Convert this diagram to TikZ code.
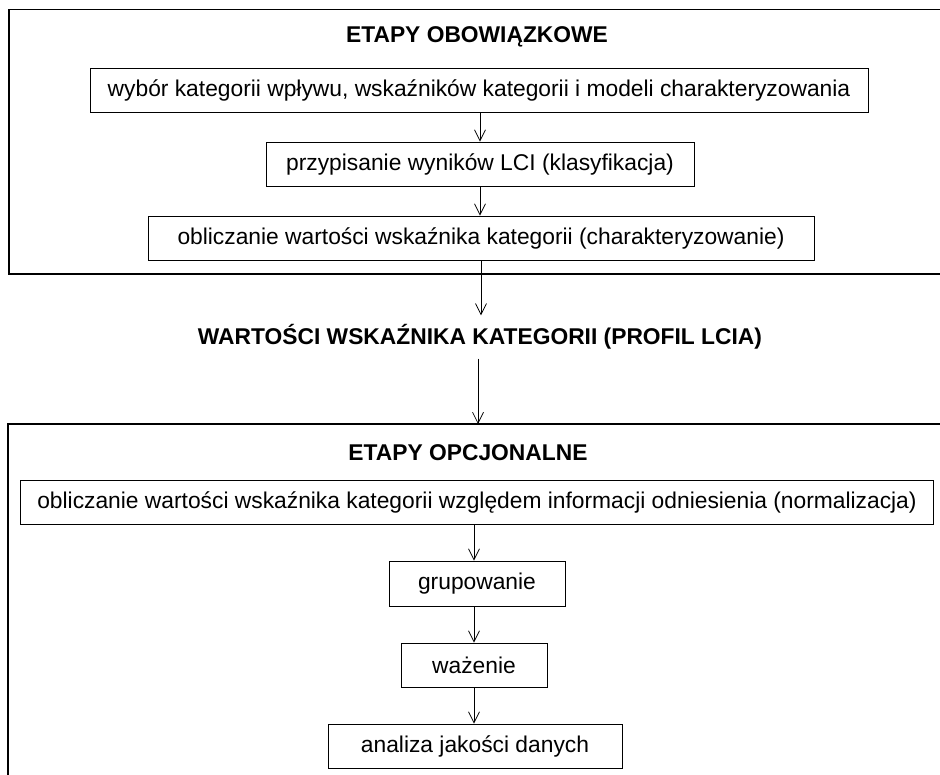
\documentclass[tikz,border=0pt]{standalone}
\usepackage{fontspec}
\setmainfont{Liberation Sans}
\usetikzlibrary{arrows.meta}
\begin{document}
\begin{tikzpicture}[x=1pt,y=-1pt,
		st/.style={draw,line width=0.9pt,minimum height=44pt,inner sep=0pt,
					font=\fontsize{22.8}{26}\selectfont},
		hd/.style={font=\bfseries\fontsize{22.8}{26}\selectfont},
		ar/.style={-{Straight Barb[length=11pt,width=11pt]},line width=0.7pt}]
	\clip (0,0) rectangle (940,775);
	% frames of the two groups of stages
	\draw[line width=1.6pt] (9,9.5) rectangle (960,274);
	\draw[line width=1.6pt] (8,424) rectangle (960,800);
	\coordinate (op) at (478,424);

	\node[hd] (obow) at (477,37) {ETAPY OBOWIĄZKOWE};
	\node[st,minimum width=778pt] (wyb) at (479,90)
		{wybór kategorii wpływu, wskaźników kategorii i modeli charakteryzowania};
	\node[st,minimum width=428pt] (klas) at (480,164)
		{przypisanie wyników LCI (klasyfikacja)};
	\node[st,minimum width=666pt] (char) at (481,238)
		{obliczanie wartości wskaźnika kategorii (charakteryzowanie)};

	\node[hd,minimum height=43pt] (prof) at (480,337)
		{WARTOŚCI WSKAŹNIKA KATEGORII (PROFIL LCIA)};

	\node[hd] (opcj) at (468,453) {ETAPY OPCJONALNE};
	\node[st,minimum width=913pt] (norm) at (477,502)
		{obliczanie wartości wskaźnika kategorii względem informacji odniesienia (normalizacja)};
	\node[st,minimum width=176pt,minimum height=45pt] (grup) at (477,583.5) {grupowanie};
	\node[st,minimum width=146pt] (waz) at (474,665) {ważenie};
	\node[st,minimum width=294pt] (anal) at (475,746) {analiza jakości danych};

	\draw[ar] (wyb.south -| klas) -- (klas.north);
	\draw[ar] (klas.south) -- (char.north -| klas);
	\draw[ar] (char.south) -- (prof.north -| char);
	\draw[ar] (prof.south -| op) -- (op);
	\draw[ar] (norm.south -| waz) -- (grup.north -| waz);
	\draw[ar] (grup.south -| waz) -- (waz.north);
	\draw[ar] (waz.south) -- (anal.north -| waz);
\end{tikzpicture}
\end{document}
